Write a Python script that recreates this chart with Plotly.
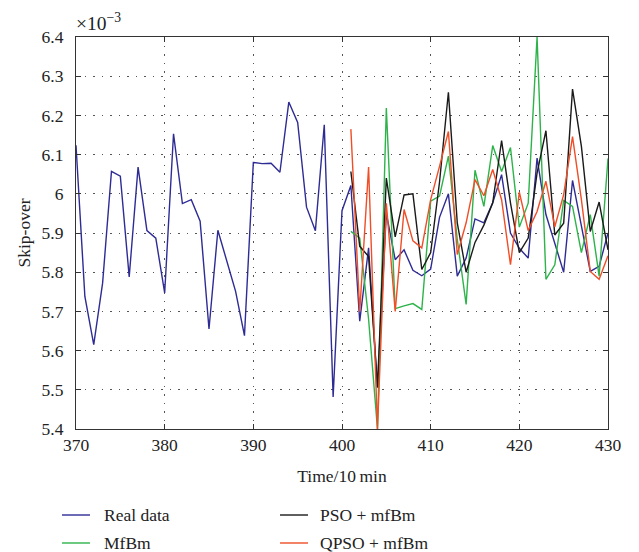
import plotly.graph_objects as go

# time index (×10 min)
t_real = list(range(370, 431))
t_model = list(range(401, 431))

# values in units of 1e-3
real_data = [6.124, 5.738, 5.615, 5.772, 6.057, 6.045, 5.788, 6.068, 5.906, 5.887,
             5.747, 6.153, 5.975, 5.985, 5.930, 5.655, 5.907, 5.828, 5.751, 5.638,
             6.080, 6.077, 6.078, 6.055, 6.234, 6.182, 5.966, 5.906, 6.176, 5.482,
             5.957, 6.021, 5.675, 5.862, 5.506, 5.950, 5.832, 5.857, 5.805, 5.791,
             5.808, 5.940, 6.000, 5.790, 5.836, 5.936, 5.926, 5.977, 6.049, 5.900,
             5.861, 5.836, 6.091, 5.947, 5.874, 5.800, 6.034, 5.917, 5.802, 5.815,
             5.900]
mfbm = [5.904, 5.887, 5.680, 5.400, 6.219, 5.707, 5.714, 5.720, 5.705, 5.981,
        5.994, 6.096, 5.884, 5.718, 6.060, 5.968, 6.123, 6.057, 6.118, 5.915,
        5.976, 6.400, 5.782, 5.819, 5.983, 5.968, 5.850, 5.947, 5.790, 6.090]
pso_mfbm = [6.057, 5.866, 5.840, 5.506, 6.040, 5.890, 5.997, 6.000, 5.807, 5.850,
            6.030, 6.259, 5.926, 5.800, 5.876, 5.920, 5.977, 6.136, 5.977, 5.850,
            5.887, 6.053, 6.161, 5.895, 5.925, 6.267, 6.121, 5.904, 5.979, 5.857]
qpso_mfbm = [6.165, 5.700, 6.068, 5.400, 5.976, 5.700, 5.960, 5.880, 5.862, 5.985,
             6.070, 6.159, 5.845, 5.926, 6.036, 5.995, 6.062, 5.985, 5.819, 6.004,
             5.906, 5.955, 6.032, 5.916, 5.998, 6.146, 5.985, 5.802, 5.782, 5.842]

x_ticks = [370, 380, 390, 400, 410, 420, 430]
y_ticks = [5.4, 5.5, 5.6, 5.7, 5.8, 5.9, 6.0, 6.1, 6.2, 6.3, 6.4]
y_tick_text = ["5.4", "5.5", "5.6", "5.7", "5.8", "5.9", "6", "6.1", "6.2", "6.3", "6.4"]

series_names = ["Real data", "MfBm", "PSO + mfBm", "QPSO + mfBm"]
series_colors = ["#2E2C94", "#2DB34A", "#1A1A1A", "#F04E27"]

FONT = "Liberation Serif"
TXT = "#222222"
fig = go.Figure()
for name, xs, ys, col in zip(series_names,
                             [t_real, t_model, t_model, t_model],
                             [real_data, mfbm, pso_mfbm, qpso_mfbm],
                             series_colors):
    fig.add_trace(go.Scatter(x=xs, y=ys, mode="lines", name=name,
                             line=dict(color=col, width=1.4), showlegend=False,
                             hoverinfo="skip"))

axis_common = dict(showline=True, linecolor="#333333", linewidth=1.2, mirror="ticks",
                   ticks="inside", ticklen=5, tickcolor="#333333",
                   showgrid=True, gridcolor="#555555", gridwidth=1, griddash="1.5px,7px",
                   zeroline=False, automargin=False,
                   tickfont=dict(family=FONT, size=17.5, color=TXT))

fig.update_xaxes(range=[370, 430], tickvals=x_ticks,
                 title=dict(text="Time/10\u2009min", font=dict(family=FONT, size=17.5, color=TXT), standoff=15),
                 **axis_common)
fig.update_yaxes(range=[5.4, 6.4], tickvals=y_ticks, ticktext=y_tick_text, ticklabelstandoff=8,
                 title=dict(text="Skip-over", font=dict(family=FONT, size=17.5, color=TXT), standoff=6),
                 **axis_common)

fig.add_annotation(text="×10<sup>−3</sup>", xref="paper", yref="paper", x=0, y=1.0,
                   xanchor="left", yanchor="bottom", yshift=1, xshift=-2, showarrow=False,
                   font=dict(family=FONT, size=19.5, color=TXT))

# manual legend (two columns, paper coordinates)
leg_pos = {  # name: (line x0, line x1, text x, y)
    "Real data": (-0.0263, 0.0263, 0.0489, -0.2194),
    "PSO + mfBm": (0.3835, 0.4361, 0.4549, -0.2194),
    "MfBm": (-0.0263, 0.0263, 0.0489, -0.2908),
    "QPSO + mfBm": (0.3835, 0.4361, 0.4549, -0.2908),
}
for name, col in zip(series_names, series_colors):
    x0, x1, xt, yy = leg_pos[name]
    fig.add_shape(type="line", xref="paper", yref="paper", x0=x0, x1=x1, y0=yy, y1=yy,
                  line=dict(color=col, width=1.4))
    fig.add_annotation(text=name, xref="paper", yref="paper", x=xt, y=yy,
                       xanchor="left", yanchor="middle", showarrow=False,
                       font=dict(family=FONT, size=17.5, color=TXT))

fig.update_layout(
    width=639, height=552,
    margin=dict(l=76, r=31, t=37, b=123),
    plot_bgcolor="white", paper_bgcolor="white",
    font=dict(family=FONT, size=17.5, color=TXT),
    showlegend=False,
)

fig.write_html("out.html", config={"displayModeBar": False},
               post_script="document.body.style.margin='0';document.body.style.overflow='hidden';")
